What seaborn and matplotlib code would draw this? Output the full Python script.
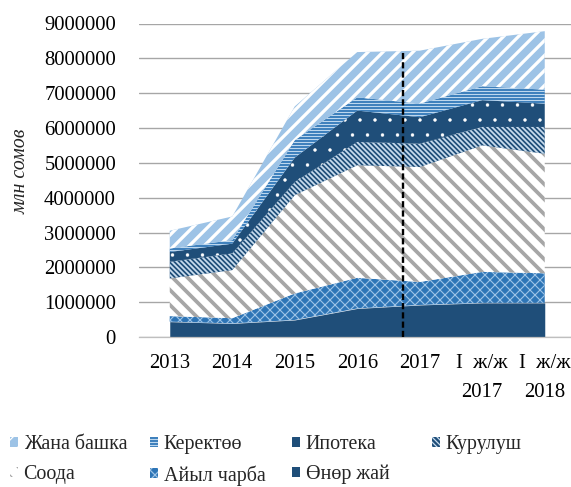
import numpy as np
import matplotlib
matplotlib.use('Agg')
import matplotlib.pyplot as plt
from matplotlib.patches import Patch
import seaborn as sns

categories = ['2013', '2014', '2015', '2016', '2017', 'I  ж/ж\n2017', 'I  ж/ж\n2018']

# values in som, bottom layer first
onor_jai = [440000, 390000, 490000, 820000, 920000, 980000, 980000]
aiyl_charba = [160000, 150000, 760000, 880000, 660000, 890000, 850000]
sooda = [1080000, 1380000, 2820000, 3230000, 3300000, 3630000, 3430000]
kurulush = [480000, 480000, 380000, 670000, 670000, 530000, 770000]
ipoteka = [280000, 280000, 700000, 900000, 760000, 770000, 670000]
kerektoo = [100000, 100000, 500000, 380000, 390000, 400000, 400000]
jana_bashka = [510000, 680000, 970000, 1300000, 1520000, 1360000, 1680000]

series_names = ['Өнөр жай', 'Айыл чарба', 'Соода', 'Курулуш', 'Ипотека', 'Керектөө', 'Жана башка']
series_values = [onor_jai, aiyl_charba, sooda, kurulush, ipoteka, kerektoo, jana_bashka]

y_ticks = [0, 1000000, 2000000, 3000000, 4000000, 5000000, 6000000, 7000000, 8000000, 9000000]

# dashed separator between yearly and half-year data
split_pos = 3.73
split_top = 8250000

# face colour, hatch, hatch colour, hatch linewidth
styles = {
    'Өнөр жай': ('#1F4E79', None, '#1F4E79', 1.0),
    'Айыл чарба': ('#2E75B6', 'xxx', '#9DC3E6', 0.9),
    'Соода': ('white', '\\\\', '#A6A6A6', 3.0),
    'Курулуш': ('#1F4E79', '\\\\\\\\\\\\', '#C9DCEE', 1.4),
    'Ипотека': ('#1F4E79', '.', 'white', 0.3),
    'Керектөө': ('#2E75B6', '-----', '#BDD7EE', 1.0),
    'Жана башка': ('#9DC3E6', '//', 'white', 2.6),
}

sns.set_theme(style='white')
plt.rcParams['font.family'] = ['Liberation Serif', 'DejaVu Serif']
plt.rcParams['hatch.linewidth'] = 1.0

DPI = 90
fig = plt.figure(figsize=(571 / DPI, 487 / DPI), dpi=DPI)
ax = fig.add_axes([138.5 / 571, 150 / 487, 437.5 / 571, 313.5 / 487])

x = np.arange(len(categories))
stack = np.cumsum(np.array(series_values, dtype=float), axis=0)
bottom = np.zeros(len(categories))
handles = {}
for name, top in zip(series_names, stack):
    face, hatch, hcol, hlw = styles[name]
    with plt.rc_context({'hatch.linewidth': hlw}):
        coll = ax.fill_between(x, bottom, top, facecolor=face, edgecolor=hcol,
                               hatch=hatch, linewidth=0, zorder=2)
        if hasattr(coll, 'set_hatch_linewidth'):
            coll.set_hatch_linewidth(hlw)
        handles[name] = Patch(facecolor=face, edgecolor=hcol, hatch=hatch, linewidth=0)
    bottom = top

ax.vlines(split_pos, 0, split_top, colors='black', linestyles=(0, (2.6, 1.3)),
          linewidth=1.9, zorder=4)

ax.set_xlim(-0.5, len(categories) - 0.5)
ax.set_ylim(0, 9000000)
ax.set_yticks(y_ticks)
ax.set_yticklabels([str(v) for v in y_ticks])
ax.set_xticks(x)
ax.set_xticklabels(categories, linespacing=1.75)
ax.set_xticks(np.arange(0.5, len(categories) - 0.5, 1), minor=True)

ax.grid(axis='y', color='#A6A6A6', linewidth=1.1)
ax.grid(axis='x', visible=False)
ax.set_axisbelow(True)
for side in ['top', 'right', 'left']:
    ax.spines[side].set_visible(False)
ax.spines['bottom'].set_color('#BFBFBF')
ax.spines['bottom'].set_linewidth(1.0)
ax.spines['bottom'].set_zorder(3)

ax.tick_params(axis='y', length=0, pad=18, labelsize=16.5, colors='black')
ax.tick_params(axis='x', which='major', length=0, pad=13.5, labelsize=16.5, colors='black')
ax.tick_params(axis='x', which='minor', direction='in', length=5, width=1.0,
               color='#D9D9D9', bottom=True)

ax.set_ylabel('млн сомов', fontsize=16, fontstyle='italic')
ax.yaxis.set_label_coords(-0.247, 0.53)

# legend laid out as four fixed columns, filled row by row
legend_cols = [['Жана башка', 'Соода'], ['Керектөө', 'Айыл чарба'],
               ['Ипотека', 'Өнөр жай'], ['Курулуш']]
col_x = [10, 150, 292, 432]
for names, cx in zip(legend_cols, col_x):
    fig.legend([handles[n] for n in names], names, loc='upper left',
               bbox_to_anchor=(cx / 571, (487 - 435) / 487), frameon=False,
               fontsize=16, handlelength=0.38, handleheight=0.38,
               handletextpad=0.3, labelspacing=0.55, borderpad=0,
               borderaxespad=0)

fig.savefig('out.png', dpi=DPI)
